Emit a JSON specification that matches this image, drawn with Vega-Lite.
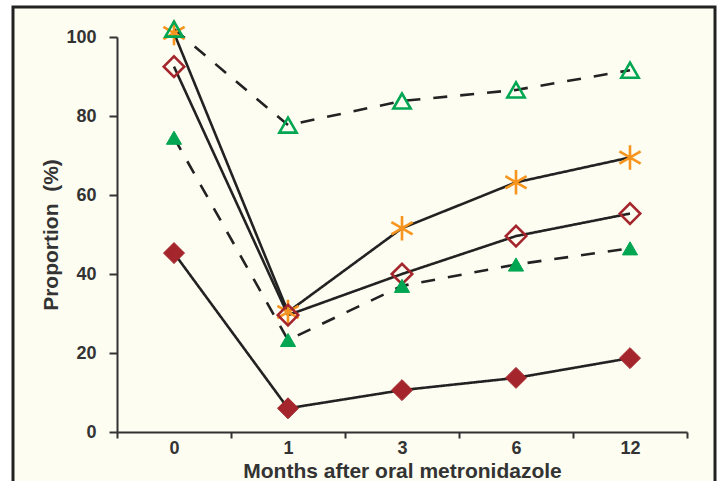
{
  "$schema": "https://vega.github.io/schema/vega-lite/v6.json",
  "autosize": "none",
  "width": 702,
  "height": 485,
  "padding": {"left": 13, "top": 7, "right": 5, "bottom": 0},
  "background": "#ffffff",
  "config": {
    "view": {"stroke": "#222222", "strokeWidth": 3, "fill": "#fdfdf1"}
  },
  "data": {
    "values": [
      {"series": "B", "month": 0, "value": 101},
      {"series": "B", "month": 1, "value": 30.4},
      {"series": "B", "month": 3, "value": 51.6},
      {"series": "B", "month": 6, "value": 63.2},
      {"series": "B", "month": 12, "value": 69.5},
      {"series": "C", "month": 0, "value": 92.5},
      {"series": "C", "month": 1, "value": 29.6},
      {"series": "C", "month": 3, "value": 40},
      {"series": "C", "month": 6, "value": 49.6},
      {"series": "C", "month": 12, "value": 55.3},
      {"series": "A", "month": 0, "value": 102},
      {"series": "A", "month": 1, "value": 77.7},
      {"series": "A", "month": 3, "value": 83.8},
      {"series": "A", "month": 6, "value": 86.6},
      {"series": "A", "month": 12, "value": 91.6},
      {"series": "D", "month": 0, "value": 74.5},
      {"series": "D", "month": 1, "value": 23.3},
      {"series": "D", "month": 3, "value": 37},
      {"series": "D", "month": 6, "value": 42.4},
      {"series": "D", "month": 12, "value": 46.5},
      {"series": "E", "month": 0, "value": 45.3},
      {"series": "E", "month": 1, "value": 6},
      {"series": "E", "month": 3, "value": 10.6},
      {"series": "E", "month": 6, "value": 13.7},
      {"series": "E", "month": 12, "value": 18.7}
    ]
  },
  "encoding": {
    "x": {
      "field": "month",
      "type": "ordinal",
      "sort": "ascending",
      "scale": {"range": [104, 674], "paddingInner": 0, "paddingOuter": 0},
      "axis": {
        "title": "Months after oral metronidazole",
        "labelAngle": 0,
        "offset": -60,
        "tickBand": "extent",
        "tickSize": 6,
        "labelPadding": 1,
        "titlePadding": 3,
        "grid": false,
        "labelFont": "Liberation Sans",
        "titleFont": "Liberation Sans",
        "labelFontWeight": "bold",
        "titleFontWeight": "bold",
        "labelColor": "#333333",
        "titleColor": "#333333",
        "domainColor": "#333333",
        "tickColor": "#333333",
        "domainWidth": 2,
        "tickWidth": 2,
        "labelFontSize": 18,
        "titleFontSize": 21
      }
    },
    "y": {
      "field": "value",
      "type": "quantitative",
      "scale": {"domain": [0, 100], "range": [425, 30], "nice": false, "zero": true},
      "axis": {
        "title": "Proportion\u00a0\u00a0(%)",
        "values": [0, 20, 40, 60, 80, 100],
        "offset": -104,
        "tickSize": 8,
        "labelPadding": 13,
        "titlePadding": 4,
        "grid": false,
        "labelFont": "Liberation Sans",
        "titleFont": "Liberation Sans",
        "labelFontWeight": "bold",
        "titleFontWeight": "bold",
        "labelColor": "#333333",
        "titleColor": "#333333",
        "domainColor": "#333333",
        "tickColor": "#333333",
        "domainWidth": 2,
        "tickWidth": 2,
        "labelFontSize": 18,
        "titleFontSize": 21
      }
    }
  },
  "layer": [
    {
      "mark": {"type": "line", "color": "#222222", "strokeWidth": 2.6},
      "encoding": {
        "detail": {"field": "series", "type": "nominal"},
        "strokeDash": {
          "field": "series",
          "type": "nominal",
          "scale": {"domain": ["A", "B", "C", "D", "E"], "range": [[14, 13], [1, 0], [1, 0], [14, 13], [1, 0]]},
          "legend": null
        }
      }
    },
    {
      "mark": {"type": "point", "opacity": 1, "filled": false},
      "encoding": {
        "shape": {
          "field": "series",
          "type": "nominal",
          "scale": {"domain": ["A", "B", "C", "D", "E"], "range": ["triangle-up", "M0,-1L0,1M-0.866,-0.5L0.866,0.5M-0.866,0.5L0.866,-0.5", "diamond", "triangle-up", "diamond"]},
          "legend": null
        },
        "stroke": {
          "field": "series",
          "type": "nominal",
          "scale": {"domain": ["A", "B", "C", "D", "E"], "range": ["#00a651", "#f7941d", "#a4262c", "#00a651", "#a4262c"]},
          "legend": null
        },
        "fill": {
          "field": "series",
          "type": "nominal",
          "scale": {"domain": ["A", "B", "C", "D", "E"], "range": ["transparent", "transparent", "transparent", "#00a651", "#a4262c"]},
          "legend": null
        },
        "size": {
          "field": "series",
          "type": "nominal",
          "scale": {"type": "ordinal", "domain": ["A", "B", "C", "D", "E"], "range": [300, 600, 420, 230, 440]},
          "legend": null
        },
        "strokeWidth": {
          "field": "series",
          "type": "nominal",
          "scale": {"type": "ordinal", "domain": ["A", "B", "C", "D", "E"], "range": [2.6, 2.6, 2.6, 1, 1]},
          "legend": null
        }
      }
    }
  ]
}
